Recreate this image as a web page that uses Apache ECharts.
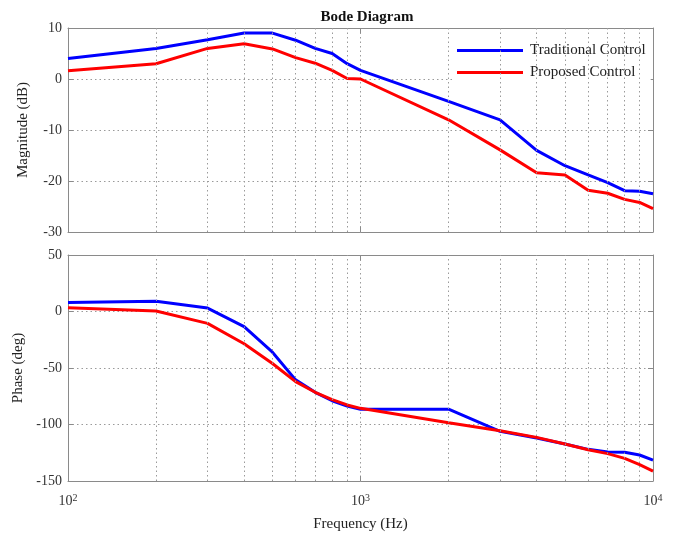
<!DOCTYPE html>
<html><head><meta charset="utf-8">
<script src="https://cdn.jsdelivr.net/npm/echarts@6/dist/echarts.min.js"></script>
<style>html,body{margin:0;padding:0;background:#fff}#c{width:680px;height:535px}</style>
</head><body><div id="c"></div>
<script>
var freqs = [100,200,300,400,500,600,700,800,900,1000,2000,3000,4000,5000,6000,7000,8000,9000,10000];
var magTrad = [4,6,7.7,9,9,7.6,6,5,3,1.7,-4.4,-8,-14,-17,-18.8,-20.3,-21.9,-22,-22.5];
var magProp = [1.6,3,6,6.9,5.9,4.2,3.1,1.7,0.1,0,-8,-13.9,-18.4,-18.8,-21.8,-22.4,-23.6,-24.2,-25.4];
var phaseTrad = [8,9,3,-13.4,-36,-60.5,-71.5,-79,-83.6,-86.5,-86.5,-106,-112,-117.3,-122,-124.3,-124.6,-127,-131.5];
var phaseProp = [3.4,0.4,-10.5,-28.5,-46,-62,-71.5,-78,-82.7,-85.7,-98.4,-105.5,-111.4,-117.3,-122.3,-125.8,-130,-135.5,-141.3];
var minorFreqs = [200,300,400,500,600,700,800,900,2000,3000,4000,5000,6000,7000,8000,9000];
var seriesNames = ['Traditional Control','Proposed Control'];
var xTickExp = {100:'2',1000:'3',10000:'4'};

var FONT = 'Liberation Serif';
var frame = '#8a8a8a';
var gridDot = {type:[1.5,3], color:'#9a9a9a', width:1};

function pairs(ys){ return freqs.map(function(f,i){return [f, ys[i]];}); }
function minorLines(){
  return {silent:true, symbol:'none', label:{show:false},
    lineStyle:{type:[1.5,3], color:'#9a9a9a', width:1},
    data: minorFreqs.map(function(f){return {xAxis:f};}), animation:false};
}
function xAxisDef(gi, showLabels){
  return {type:'log', logBase:10, gridIndex:gi, min:100, max:10000, position:'bottom',
    axisLine:{show:true, onZero:false, lineStyle:{color:frame, width:1}},
    axisTick:{show:true, inside:true, length:5, lineStyle:{color:frame}},
    splitLine:{show:true, lineStyle:gridDot},
    axisLabel:{show:showLabels, margin:12, color:'#333',
      formatter:function(v){ var e = xTickExp[Math.round(v)]; return e ? '{b|10}{s|'+e+'}' : ''; },
      rich:{b:{fontFamily:FONT, fontSize:14, color:'#333'}, s:{fontFamily:FONT, fontSize:10, color:'#333', verticalAlign:'top', padding:[0,0,6,0]}}},
    name: showLabels ? 'Frequency (Hz)' : '', nameLocation:'middle', nameGap:36,
    nameTextStyle:{fontFamily:FONT, fontSize:15, color:'#222'}};
}
function xAxisTop(gi){
  return {type:'log', logBase:10, gridIndex:gi, min:100, max:10000, position:'top',
    axisLine:{show:true, onZero:false, lineStyle:{color:frame, width:1}},
    axisTick:{show:true, inside:true, length:5, lineStyle:{color:frame}},
    axisLabel:{show:false}, splitLine:{show:false}};
}
function yAxisDef(gi, min, max, interval, name){
  return {type:'value', gridIndex:gi, min:min, max:max, interval:interval, position:'left',
    axisLine:{show:true, onZero:false, lineStyle:{color:frame, width:1}},
    axisTick:{show:true, inside:true, length:5, lineStyle:{color:frame}},
    splitLine:{show:true, lineStyle:gridDot},
    axisLabel:{fontFamily:FONT, fontSize:14, color:'#333', margin:6},
    name:name, nameLocation:'middle', nameGap:37, nameRotate:90,
    nameTextStyle:{fontFamily:FONT, fontSize:15, color:'#222'}};
}
function yAxisRight(gi, min, max, interval){
  return {type:'value', gridIndex:gi, min:min, max:max, interval:interval, position:'right',
    axisLine:{show:true, onZero:false, lineStyle:{color:frame, width:1}},
    axisTick:{show:true, inside:true, length:5, lineStyle:{color:frame}},
    axisLabel:{show:false}, splitLine:{show:false}};
}

var chart = echarts.init(document.getElementById('c'), null, {renderer:'canvas'});
chart.setOption({
  animation:false,
  backgroundColor:'#fff',
  title:{text:'Bode Diagram', left:362, textAlign:'center', top:5,
    textStyle:{fontFamily:FONT, fontSize:15, fontWeight:'bold', color:'#111'}},
  legend:{orient:'vertical', left:452, top:41, itemWidth:66, itemHeight:3, itemGap:7,
    icon:'rect', data:seriesNames, padding:[2,5,2,5],
    textStyle:{fontFamily:FONT, fontSize:15, color:'#222', padding:[0,0,0,2]},
    backgroundColor:'#fff'},
  grid:[
    {left:68, top:28, width:585, height:204},
    {left:68, top:255, width:585, height:226}
  ],
  xAxis:[xAxisDef(0,false), xAxisDef(1,true), xAxisTop(0), xAxisTop(1)],
  yAxis:[yAxisDef(0,-30,10,10,'Magnitude (dB)'), yAxisDef(1,-150,50,50,'Phase (deg)'),
         yAxisRight(0,-30,10,10), yAxisRight(1,-150,50,50)],
  series:[
    {name:seriesNames[0], type:'line', xAxisIndex:0, yAxisIndex:0, data:pairs(magTrad),
     showSymbol:false, lineStyle:{color:'#0000ff', width:3}, itemStyle:{color:'#0000ff'}, z:4,
     markLine:minorLines()},
    {name:seriesNames[1], type:'line', xAxisIndex:0, yAxisIndex:0, data:pairs(magProp),
     showSymbol:false, lineStyle:{color:'#ff0000', width:3}, itemStyle:{color:'#ff0000'}, z:3},
    {name:seriesNames[0], type:'line', xAxisIndex:1, yAxisIndex:1, data:pairs(phaseTrad),
     showSymbol:false, lineStyle:{color:'#0000ff', width:3}, itemStyle:{color:'#0000ff'}, z:3,
     markLine:minorLines()},
    {name:seriesNames[1], type:'line', xAxisIndex:1, yAxisIndex:1, data:pairs(phaseProp),
     showSymbol:false, lineStyle:{color:'#ff0000', width:3}, itemStyle:{color:'#ff0000'}, z:4}
  ]
});
</script></body></html>
